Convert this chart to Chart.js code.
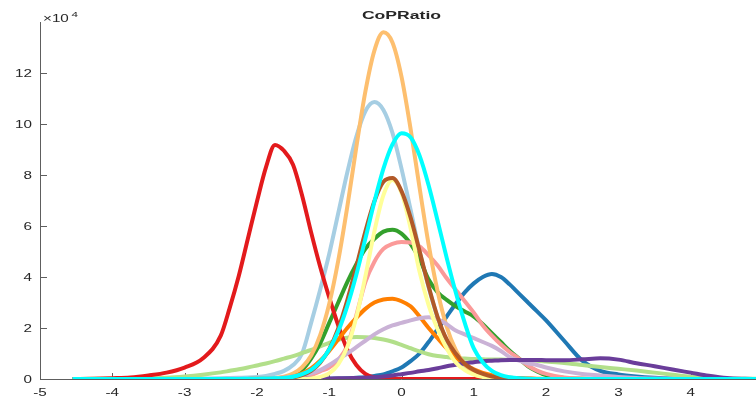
<!DOCTYPE html>
<html>
<head>
<meta charset="utf-8">
<script src="https://cdn.jsdelivr.net/npm/chart.js@4.4.0/dist/chart.umd.min.js"></script>
<style>
  html, body { margin: 0; padding: 0; overflow: hidden; background: #fff; }
  #wrap { width: 763px; height: 401px; }
</style>
</head>
<body>
<div id="wrap"><canvas id="copChart"></canvas></div>
<script>
// x positions shared by every curve (finer in the middle where the peaks are)
const xs = [-4.55, -4.25, -4, -3.75, -3.5, -3.25, -3, -2.75,
  -2.5, -2.375, -2.25, -2.125, -2, -1.875, -1.75, -1.625, -1.5, -1.375, -1.25, -1.125,
  -1, -0.875, -0.75, -0.625, -0.5, -0.375, -0.25, -0.125, 0, 0.125, 0.25, 0.375,
  0.5, 0.625, 0.75, 0.875, 1, 1.125, 1.25, 1.375, 1.5, 1.625, 1.75, 1.875, 2,
  2.25, 2.5, 2.75, 3, 3.25, 3.5, 3.75, 4, 4.25, 4.5, 4.75, 5];

const xTicks = [-5, -4, -3, -2, -1, 0, 1, 2, 3, 4];
const yTicks = [0, 2, 4, 6, 8, 10, 12];

// values in units of 10^4
const lightBlue = [0, 0, 0, 0, 0, 0, 0.01, 0.02,
  0.03, 0.04, 0.05, 0.06, 0.08, 0.12, 0.2, 0.32, 0.55, 1.0, 2.2, 3.5,
  4.9, 6.5, 8.1, 9.5, 10.5, 10.86, 10.55, 9.65, 8.25, 6.65, 5.0, 3.6,
  2.4, 1.5, 0.88, 0.48, 0.26, 0.13, 0.06, 0.03, 0.01, 0, 0, 0, 0,
  0, 0, 0, 0, 0, 0, 0, 0, 0, 0, 0, 0];
const darkBlue = [0, 0, 0, 0, 0, 0, 0, 0,
  0, 0, 0, 0, 0, 0, 0, 0, 0, 0, 0, 0,
  0.01, 0.02, 0.03, 0.05, 0.07, 0.12, 0.18, 0.3, 0.45, 0.7, 1.0, 1.45,
  1.95, 2.45, 2.95, 3.4, 3.75, 4.0, 4.12, 4.0, 3.7, 3.35, 3.0, 2.65, 2.3,
  1.5, 0.72, 0.32, 0.18, 0.1, 0.05, 0.02, 0.01, 0, 0, 0, 0];
const lightGreen = [0, 0.01, 0.01, 0.02, 0.03, 0.05, 0.1, 0.17,
  0.26, 0.32, 0.38, 0.45, 0.53, 0.61, 0.7, 0.8, 0.9, 1.02, 1.14, 1.28,
  1.42, 1.54, 1.62, 1.65, 1.64, 1.61, 1.55, 1.46, 1.34, 1.21, 1.08, 0.97,
  0.9, 0.86, 0.82, 0.8, 0.78, 0.77, 0.76, 0.76, 0.75, 0.75, 0.74, 0.72, 0.69,
  0.63, 0.55, 0.47, 0.4, 0.33, 0.25, 0.17, 0.09, 0.05, 0.02, 0.01, 0];
const green = [0, 0, 0, 0, 0, 0, 0, 0,
  0, 0, 0, 0, 0.01, 0.01, 0.02, 0.05, 0.15, 0.35, 0.8, 1.4,
  2.2, 3.0, 3.8, 4.5, 5.1, 5.5, 5.78, 5.85, 5.7, 5.3, 4.7, 3.9,
  3.4, 3.1, 2.85, 2.65, 2.45, 2.15, 1.8, 1.45, 1.1, 0.8, 0.5, 0.3, 0.15,
  0.04, 0.01, 0, 0, 0, 0, 0, 0, 0, 0, 0, 0];
const pink = [0, 0, 0, 0, 0, 0, 0, 0,
  0, 0, 0, 0, 0, 0, 0, 0, 0.03, 0.07, 0.15, 0.3,
  0.45, 0.75, 1.3, 2.5, 3.8, 4.6, 5.1, 5.3, 5.37, 5.35, 5.2, 4.85,
  4.45, 3.95, 3.5, 3.05, 2.6, 2.1, 1.7, 1.35, 1.05, 0.8, 0.52, 0.33, 0.2,
  0.06, 0.02, 0, 0, 0, 0, 0, 0, 0, 0, 0, 0];
const red = [0, 0.01, 0.03, 0.06, 0.14, 0.25, 0.45, 0.8,
  1.7, 2.8, 4.05, 5.5, 6.95, 8.3, 9.18, 8.95, 8.4, 7.2, 5.75, 4.4,
  3.2, 2.1, 1.15, 0.55, 0.2, 0.06, 0.02, 0, 0, 0, 0, 0,
  0, 0, 0, 0, 0, 0, 0, 0, 0, 0, 0, 0, 0,
  0, 0, 0, 0, 0, 0, 0, 0, 0, 0, 0, 0];
const lightOrange = [0, 0, 0, 0, 0, 0, 0, 0,
  0, 0, 0, 0, 0.01, 0.02, 0.04, 0.09, 0.21, 0.46, 0.92, 1.72,
  2.94, 4.64, 6.75, 9.09, 11.27, 12.88, 13.6, 13.2, 11.86, 9.82, 7.5, 5.28,
  3.43, 2.05, 1.14, 0.58, 0.27, 0.12, 0.05, 0.02, 0.01, 0, 0, 0, 0,
  0, 0, 0, 0, 0, 0, 0, 0, 0, 0, 0, 0];
const orange = [0, 0, 0, 0, 0, 0, 0, 0,
  0, 0, 0, 0, 0.01, 0.01, 0.02, 0.05, 0.1, 0.22, 0.42, 0.72,
  1.1, 1.55, 2.0, 2.4, 2.75, 3.0, 3.12, 3.15, 3.05, 2.85, 2.45, 2.0,
  1.6, 1.2, 0.85, 0.58, 0.38, 0.24, 0.15, 0.09, 0.05, 0.03, 0.02, 0.01, 0,
  0, 0, 0, 0, 0, 0, 0, 0, 0, 0, 0, 0];
const lavender = [0, 0, 0, 0, 0, 0, 0, 0,
  0, 0, 0.01, 0.01, 0.02, 0.02, 0.03, 0.06, 0.1, 0.15, 0.22, 0.35,
  0.55, 0.78, 1.0, 1.25, 1.5, 1.75, 1.95, 2.1, 2.2, 2.3, 2.38, 2.42,
  2.35, 2.15, 1.9, 1.75, 1.6, 1.45, 1.3, 1.1, 0.85, 0.72, 0.62, 0.55, 0.45,
  0.3, 0.2, 0.14, 0.08, 0.04, 0.02, 0.01, 0, 0, 0, 0, 0];
const purple = [0, 0, 0, 0, 0, 0, 0, 0,
  0, 0, 0, 0, 0, 0, 0, 0, 0, 0, 0.01, 0.01,
  0.02, 0.03, 0.03, 0.04, 0.05, 0.07, 0.1, 0.14, 0.19, 0.24, 0.3, 0.35,
  0.42, 0.5, 0.56, 0.62, 0.66, 0.7, 0.72, 0.74, 0.75, 0.75, 0.75, 0.75, 0.74,
  0.74, 0.77, 0.81, 0.76, 0.62, 0.5, 0.37, 0.25, 0.13, 0.04, 0.01, 0];
const yellow = [0, 0, 0, 0, 0, 0, 0, 0,
  0, 0, 0, 0, 0, 0, 0, 0, 0, 0, 0.02, 0.08,
  0.22, 0.57, 1.26, 2.42, 4.02, 5.79, 7.21, 7.8, 7.3, 5.92, 4.2, 2.9,
  1.95, 1.2, 0.65, 0.35, 0.17, 0.08, 0.03, 0.01, 0, 0, 0, 0, 0,
  0, 0, 0, 0, 0, 0, 0, 0, 0, 0, 0, 0];
const brown = [0, 0, 0, 0, 0, 0, 0, 0,
  0, 0, 0, 0, 0, 0, 0, 0.02, 0.06, 0.15, 0.32, 0.64,
  1.17, 1.98, 3.09, 4.4, 5.78, 6.97, 7.73, 7.88, 7.37, 6.34, 5.02, 3.64,
  2.43, 1.55, 1.0, 0.6, 0.35, 0.2, 0.1, 0.05, 0.03, 0.02, 0.01, 0, 0,
  0, 0, 0, 0, 0, 0, 0, 0, 0, 0, 0, 0];
const cyan = [0, 0, 0, 0, 0, 0, 0, 0,
  0, 0, 0, 0.01, 0.01, 0.02, 0.03, 0.04, 0.09, 0.19, 0.36, 0.67,
  1.16, 1.87, 2.86, 4.09, 5.5, 6.95, 8.25, 9.2, 9.64, 9.48, 8.76, 7.6,
  6.2, 4.75, 3.4, 2.2, 1.2, 0.65, 0.32, 0.15, 0.07, 0.03, 0.01, 0, 0,
  0, 0, 0, 0, 0, 0, 0, 0, 0, 0, 0, 0];

// first dataset is painted last (on top)
const series = [
  { name: 'cyan', values: cyan, color: '#00ffff' },
  { name: 'brown', values: brown, color: '#b15928' },
  { name: 'yellow', values: yellow, color: '#ffff99' },
  { name: 'purple', values: purple, color: '#6a3d9a' },
  { name: 'lavender', values: lavender, color: '#cab2d6' },
  { name: 'orange', values: orange, color: '#ff7f00' },
  { name: 'lightOrange', values: lightOrange, color: '#fdbf6f' },
  { name: 'red', values: red, color: '#e31a1c' },
  { name: 'pink', values: pink, color: '#fb9a99' },
  { name: 'green', values: green, color: '#33a02c' },
  { name: 'lightGreen', values: lightGreen, color: '#b2df8a' },
  { name: 'darkBlue', values: darkBlue, color: '#1f78b4' },
  { name: 'lightBlue', values: lightBlue, color: '#a6cee3' }
];

const textColor = '#262626';
const axisColor = '#5e5e5e';

// canvas text stretched sideways like the original export
function wideText(ctx, text, px, py, align, font, sx) {
  ctx.save();
  ctx.translate(px, py);
  ctx.scale(sx, 1);
  ctx.font = font;
  ctx.fillStyle = textColor;
  ctx.textAlign = align;
  ctx.textBaseline = 'alphabetic';
  ctx.fillText(text, 0, 0);
  ctx.restore();
}

const matlabAxes = {
  id: 'matlabAxes',
  beforeDatasetsDraw(chart) {
    const { ctx, chartArea: a, scales: { x, y } } = chart;
    ctx.save();
    ctx.strokeStyle = axisColor;
    ctx.lineWidth = 1;
    ctx.beginPath();
    ctx.moveTo(a.left + 0.5, a.top);
    ctx.lineTo(a.left + 0.5, a.bottom + 0.5);
    ctx.lineTo(a.right, a.bottom + 0.5);
    yTicks.forEach(v => {
      const py = Math.round(y.getPixelForValue(v)) + 0.5;
      ctx.moveTo(a.left, py);
      ctx.lineTo(a.left + 7, py);
    });
    xTicks.forEach(v => {
      const px = Math.round(x.getPixelForValue(v)) + 0.5;
      ctx.moveTo(px, a.bottom);
      ctx.lineTo(px, a.bottom - 6);
    });
    ctx.stroke();
    ctx.restore();
  },
  afterDraw(chart) {
    const { ctx, chartArea: a, scales: { x, y } } = chart;
    const tickFont = '10.5px "Liberation Sans", Arial, sans-serif';
    yTicks.forEach(v => {
      wideText(ctx, String(v), 32, y.getPixelForValue(v) + 3.8, 'right', tickFont, 1.45);
    });
    xTicks.forEach(v => {
      wideText(ctx, String(v), x.getPixelForValue(v), a.bottom + 16.5, 'center', tickFont, 1.45);
    });
    // exponent label
    wideText(ctx, '\u00d710', 43, 21.5, 'left', tickFont, 1.45);
    wideText(ctx, '4', 71.5, 16.5, 'left', '8px "Liberation Sans", Arial, sans-serif', 1.45);
    // title over the axes
    wideText(ctx, 'CoPRatio', (a.left + a.right) / 2, 19, 'center',
      'bold 11px "Liberation Sans", Arial, sans-serif', 1.6);
  }
};

new Chart(document.getElementById('copChart'), {
  type: 'line',
  data: {
    datasets: series.map(s => ({
      label: s.name,
      data: xs.map((x, i) => ({ x: x, y: s.values[i] })),
      borderColor: s.color,
      backgroundColor: s.color,
      borderWidth: 4,
      pointRadius: 0,
      fill: false,
      cubicInterpolationMode: 'monotone'
    }))
  },
  options: {
    responsive: true,
    maintainAspectRatio: false,
    animation: false,
    layout: { padding: { left: 40, top: 22, right: 0, bottom: 22 } },
    plugins: {
      legend: { display: false },
      tooltip: { enabled: false },
      title: { display: false }
    },
    scales: {
      x: { type: 'linear', min: -5, max: 5, display: false },
      y: { min: 0, max: 14, display: false }
    }
  },
  plugins: [matlabAxes]
});
</script>
</body>
</html>
